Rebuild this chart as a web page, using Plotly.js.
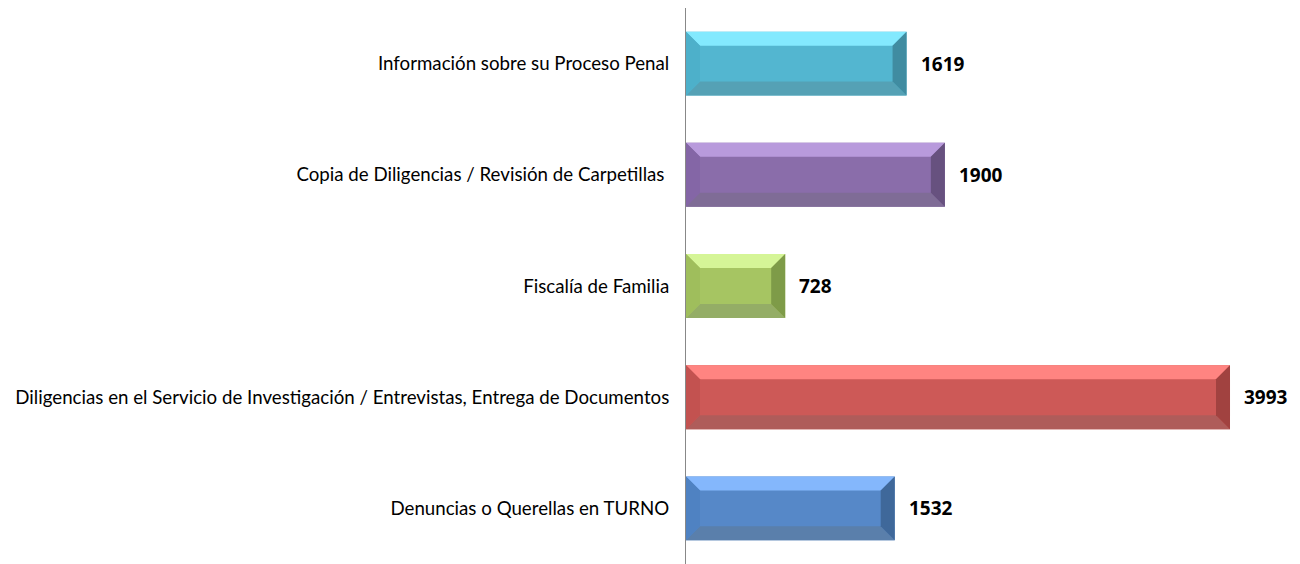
<!DOCTYPE html>
<html>
<head>
<meta charset="utf-8">
<script src="https://cdn.plot.ly/plotly-3.0.1.min.js"></script>
<style>html,body{margin:0;padding:0;background:#fff;}#chart{width:1300px;height:564px;}</style>
</head>
<body>
<div id="chart"></div>
<script>
// Data (bottom to top)
var categories = [
  "Denuncias o Querellas en TURNO",
  "Diligencias en el Servicio de Investigación / Entrevistas, Entrega de Documentos",
  "Fiscalía de Familia",
  "Copia de Diligencias / Revisión de Carpetillas ",
  "Información sobre su Proceso Penal"
];
var values = [1532, 3993, 728, 1900, 1619];

// Styles: [top, center, left, right, bottom]
var palette = [
  ["#84B7FC", "#5688C8", "#4F82C2", "#3F689A", "#5A7FAB"],
  ["#FF8481", "#CD5957", "#C35250", "#A14240", "#AF5C5A"],
  ["#D5F597", "#A6C562", "#9FBE5C", "#7E9B48", "#94AD66"],
  ["#B89ADC", "#8A6DAA", "#8466A6", "#67517F", "#7F6C96"],
  ["#83E9FE", "#53B6D0", "#4DB0CA", "#408CA1", "#55A1B5"]
];

var W = 1300, H = 564;
var marginL = 686, marginR = 14, marginT = 8, marginB = 0;
var plotW = W - marginL - marginR;
var plotH = H - marginT - marginB;
var xMax = 4404;
var barWidth = 0.575;
var bevelPx = 14;
var dx = bevelPx * xMax / plotW;
var dy = bevelPx * 5 / plotH;
var h = barWidth / 2;

var idx = categories.map(function(_, i){ return i; });

var traces = [{
  type: "bar",
  orientation: "h",
  x: values,
  y: idx,
  width: barWidth,
  marker: { color: idx.map(function(i){ return palette[i][1]; }), line: { width: 0 } },
  hoverinfo: "skip",
  showlegend: false
}];

function poly(xs, ys, color) {
  traces.push({
    type: "scatter", mode: "lines", x: xs.concat([xs[0]]), y: ys.concat([ys[0]]),
    fill: "toself", fillcolor: color, line: { width: 0, color: color },
    hoverinfo: "skip", showlegend: false
  });
}

idx.forEach(function(i){
  var v = values[i], c = i, p = palette[i];
  var ddx = Math.min(dx, v / 2);
  poly([0, v, v - ddx, ddx], [c + h, c + h, c + h - dy, c + h - dy], p[0]);
  poly([0, v, v - ddx, ddx], [c - h, c - h, c - h + dy, c - h + dy], p[4]);
  poly([0, ddx, ddx, 0], [c + h, c + h - dy, c - h + dy, c - h], p[2]);
  poly([v, v - ddx, v - ddx, v], [c + h, c + h - dy, c - h + dy, c - h], p[3]);
});

var annotations = idx.map(function(i){
  return {
    x: values[i], y: i, xref: "x", yref: "y",
    text: "<b>" + String(values[i]) + "</b>", showarrow: false,
    xanchor: "left", yanchor: "middle", xshift: 12,
    font: { family: "Open Sans, sans-serif", size: 19, color: "#000" }
  };
});

var layout = {
  width: W, height: H,
  margin: { l: marginL, r: marginR, t: marginT, b: marginB },
  paper_bgcolor: "#fff", plot_bgcolor: "#fff",
  showlegend: false,
  xaxis: { range: [0, xMax], visible: false, fixedrange: true },
  yaxis: {
    range: [-0.5, 4.5], tickvals: idx, ticktext: categories,
    showgrid: false, zeroline: false, showline: true, linecolor: "#888888", linewidth: 1,
    ticks: "", ticklabelstandoff: 12,
    tickfont: { family: "Lato, sans-serif", size: 18.7, color: "#000" },
    fixedrange: true
  },
  annotations: annotations
};

Plotly.newPlot("chart", traces, layout, { displayModeBar: false, staticPlot: true });
</script>
</body>
</html>
